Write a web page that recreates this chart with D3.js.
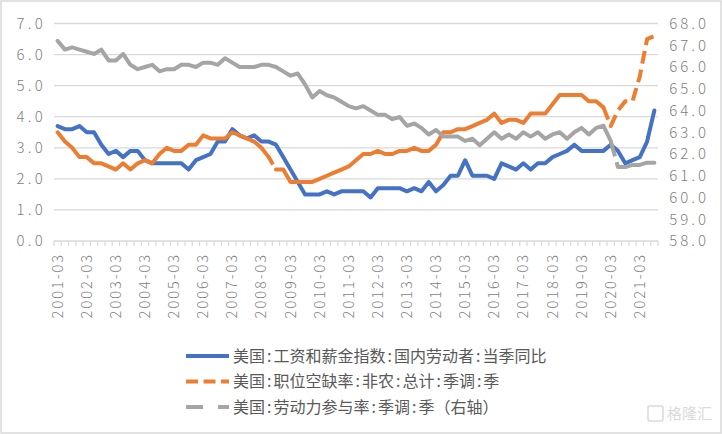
<!DOCTYPE html>
<html><head><meta charset="utf-8">
<script src="https://cdn.jsdelivr.net/npm/d3@7"></script>
<style>html,body{margin:0;padding:0;background:#fff}svg{display:block}</style>
</head><body><svg id="c" width="722" height="434"></svg>
<script>
// ---------- data ----------
const dates = [];
for (let y = 2001; y <= 2021; y++) for (const m of ["03","06","09","12"]) {
  if (y === 2021 && m === "12") break;
  dates.push(y + "-" + m);
}
// 美国:工资和薪金指数:国内劳动者:当季同比 (%)
const wageYoY = [3.7,3.6,3.6,3.7,3.5,3.5,3.1,2.8,2.9,2.7,2.9,2.9,2.6,2.5,2.5,2.5,2.5,2.5,2.3,2.6,
  2.7,2.8,3.2,3.2,3.6,3.4,3.3,3.4,3.2,3.2,3.1,2.7,2.3,1.9,1.5,1.5,1.5,1.6,1.5,1.6,
  1.6,1.6,1.6,1.4,1.7,1.7,1.7,1.7,1.6,1.7,1.6,1.9,1.6,1.8,2.1,2.1,2.6,2.1,2.1,2.1,
  2.0,2.5,2.4,2.3,2.5,2.3,2.5,2.5,2.7,2.8,2.9,3.1,2.9,2.9,2.9,2.9,3.1,2.9,2.5,2.6,
  2.7,3.2,4.2];
// 美国:职位空缺率:非农:总计:季调:季 (%)
const openingsRate = [3.5,3.2,3.0,2.7,2.7,2.5,2.5,2.4,2.3,2.5,2.3,2.5,2.6,2.5,2.8,3.0,2.9,2.9,3.1,3.1,
  3.4,3.3,3.3,3.3,3.5,3.4,3.3,3.2,3.0,2.7,2.3,2.3,1.9,1.9,1.9,1.9,2.0,2.1,2.2,2.3,
  2.4,2.6,2.8,2.8,2.9,2.8,2.8,2.9,2.9,3.0,2.9,2.9,3.1,3.5,3.5,3.6,3.6,3.7,3.8,3.9,
  4.1,3.8,3.9,3.9,3.8,4.1,4.1,4.1,4.4,4.7,4.7,4.7,4.7,4.5,4.5,4.3,3.7,4.2,4.5,4.5,
  5.3,6.5,6.6];
// 美国:劳动力参与率:季调:季 (%, 右轴)
const participation = [67.2,66.8,66.9,66.8,66.7,66.6,66.8,66.3,66.3,66.6,66.1,65.9,66.0,66.1,65.8,65.9,65.9,66.1,66.1,66.0,
  66.2,66.2,66.1,66.4,66.2,66.0,66.0,66.0,66.1,66.1,66.0,65.8,65.6,65.7,65.2,64.6,64.9,64.7,64.6,64.4,
  64.2,64.1,64.2,64.0,63.8,63.8,63.6,63.7,63.3,63.4,63.2,62.9,63.1,62.8,62.8,62.8,62.6,62.7,62.4,62.7,
  63.0,62.7,62.9,62.7,63.0,62.8,63.0,62.7,62.9,63.0,62.7,63.0,63.2,62.9,63.2,63.3,62.6,61.4,61.4,61.5,
  61.5,61.6,61.6];
const leftTicks = [0,1,2,3,4,5,6,7];
const rightTicks = [58,59,60,61,62,63,64,65,66,67,68];
const labelDates = dates.filter((d, i) => i % 4 === 0);
const seriesNames = ["美国:工资和薪金指数:国内劳动者:当季同比", "美国:职位空缺率:非农:总计:季调:季", "美国:劳动力参与率:季调:季（右轴）"];

// ---------- styles ----------
const C = { blue: "#4472C4", orange: "#ED7D31", gray: "#A5A5A5", grid: "#D9D9D9", axisText: "#7F7F7F", legText: "#595959" };
const FONT = "'Noto Sans CJK SC','Noto Sans',sans-serif";

const svg = d3.select("#c");
svg.append("rect").attr("x", 1).attr("y", 1).attr("width", 720).attr("height", 432)
  .attr("fill", "#fff").attr("stroke", C.grid).attr("stroke-width", 1.5);

const x = d3.scaleBand().domain(dates).range([54, 658]).padding(0);
const cx = d => x(d) + x.bandwidth() / 2;
const yL = d3.scaleLinear().domain([0, 7]).range([241, 23.5]);
const yR = d3.scaleLinear().domain([58, 68]).range([241, 23.5]);

// gridlines
svg.append("g").selectAll("line").data(leftTicks.filter(t => t > 0)).join("line")
  .attr("x1", 54).attr("x2", 658).attr("y1", d => yL(d)).attr("y2", d => yL(d))
  .attr("stroke", C.grid).attr("stroke-width", 1.3);

// x axis line + category ticks
svg.append("line").attr("x1", 54).attr("x2", 658).attr("y1", yL(0)).attr("y2", yL(0))
  .attr("stroke", C.grid).attr("stroke-width", 1.3);
const tickXs = dates.map(d => x(d)).concat([x(dates[dates.length - 1]) + x.bandwidth()]);
svg.append("g").selectAll("line").data(tickXs).join("line")
  .attr("x1", d => d).attr("x2", d => d).attr("y1", yL(0)).attr("y2", yL(0) + 5)
  .attr("stroke", C.grid).attr("stroke-width", 1.2);

// left axis labels
const gl = svg.append("g").attr("transform", "translate(46,0)")
  .call(d3.axisLeft(yL).tickValues(leftTicks).tickSize(0).tickPadding(0).tickFormat(d3.format(".1f")));
gl.select(".domain").remove();
gl.selectAll("text").attr("font-family", FONT).attr("font-size", 15).attr("fill", C.axisText)
  .attr("letter-spacing", 3.2).attr("font-weight", 300);

// right axis labels
const gr = svg.append("g").attr("transform", "translate(709,0)")
  .call(d3.axisLeft(yR).tickValues(rightTicks).tickSize(0).tickPadding(0).tickFormat(d3.format(".1f")));
gr.select(".domain").remove();
gr.selectAll("text").attr("font-family", FONT).attr("font-size", 15).attr("fill", C.axisText)
  .attr("letter-spacing", 3).attr("font-weight", 300);

// x labels
svg.append("g").selectAll("text").data(labelDates).join("text")
  .attr("transform", d => `translate(${cx(d)},253) rotate(-90)`)
  .attr("text-anchor", "end").attr("dy", "0.35em")
  .attr("font-family", FONT).attr("font-size", 14.5).attr("fill", C.axisText)
  .attr("letter-spacing", 2).attr("font-weight", 300)
  .text(d => d);

// ---------- lines ----------
function drawSeries(values, yScale, color, parts) {
  const pts = values.map((v, i) => ({ d: dates[i], v }));
  const line = d3.line().x(p => cx(p.d)).y(p => yScale(p.v));
  const g = svg.append("g");
  parts.forEach(p => {
    g.append("path").attr("d", line(pts.slice(p.from, p.to + 1)))
      .attr("fill", "none").attr("stroke", color).attr("stroke-width", 4)
      .attr("stroke-linejoin", "round").attr("stroke-linecap", p.dash ? "butt" : "round")
      .attr("stroke-dasharray", p.dash || null);
  });
}
drawSeries(wageYoY, yL, C.blue, [{ from: 0, to: 82 }]);
drawSeries(openingsRate, yL, C.orange, [
  { from: 0, to: 29 }, { from: 29, to: 30, dash: "8.5 5.5 60" }, { from: 30, to: 75 }, { from: 75, to: 82, dash: "13 6" }]);
drawSeries(participation, yR, C.gray, [
  { from: 0, to: 76 }, { from: 76, to: 77, dash: "16 6 60" }, { from: 77, to: 82 }]);

// ---------- legend ----------
const legendStyles = [
  { color: C.blue, dash: null },
  { color: C.orange, dash: "12 5.5" },
  { color: C.gray, dash: "17 15" }];
const leg = svg.append("g");
seriesNames.forEach((name, k) => {
  const yy = 356 + k * 25.5;
  leg.append("line").attr("x1", 186).attr("x2", 229).attr("y1", yy).attr("y2", yy)
    .attr("stroke", legendStyles[k].color).attr("stroke-width", 4)
    .attr("stroke-dasharray", legendStyles[k].dash);
  const t = leg.append("text").attr("x", 233).attr("y", yy).attr("dy", "0.36em")
    .attr("font-family", FONT).attr("font-size", 16).attr("fill", C.legText);
  name.split(":").forEach((part, j) => {
    if (j > 0) t.append("tspan").attr("dx", 2).text(":");
    t.append("tspan").attr("dx", j > 0 ? 2 : 0).text(part);
  });
});

// watermark
const wm = svg.append("g").attr("opacity", 0.55);
wm.append("rect").attr("x", 648).attr("y", 406).attr("width", 15).attr("height", 15).attr("rx", 2)
  .attr("fill", "none").attr("stroke", "#bdbdbd").attr("stroke-width", 1.6);
wm.append("text").attr("x", 667).attr("y", 414).attr("dy", "0.36em").attr("font-family", FONT)
  .attr("font-size", 15).attr("fill", "#bdbdbd").text("格隆汇");
</script></body></html>
